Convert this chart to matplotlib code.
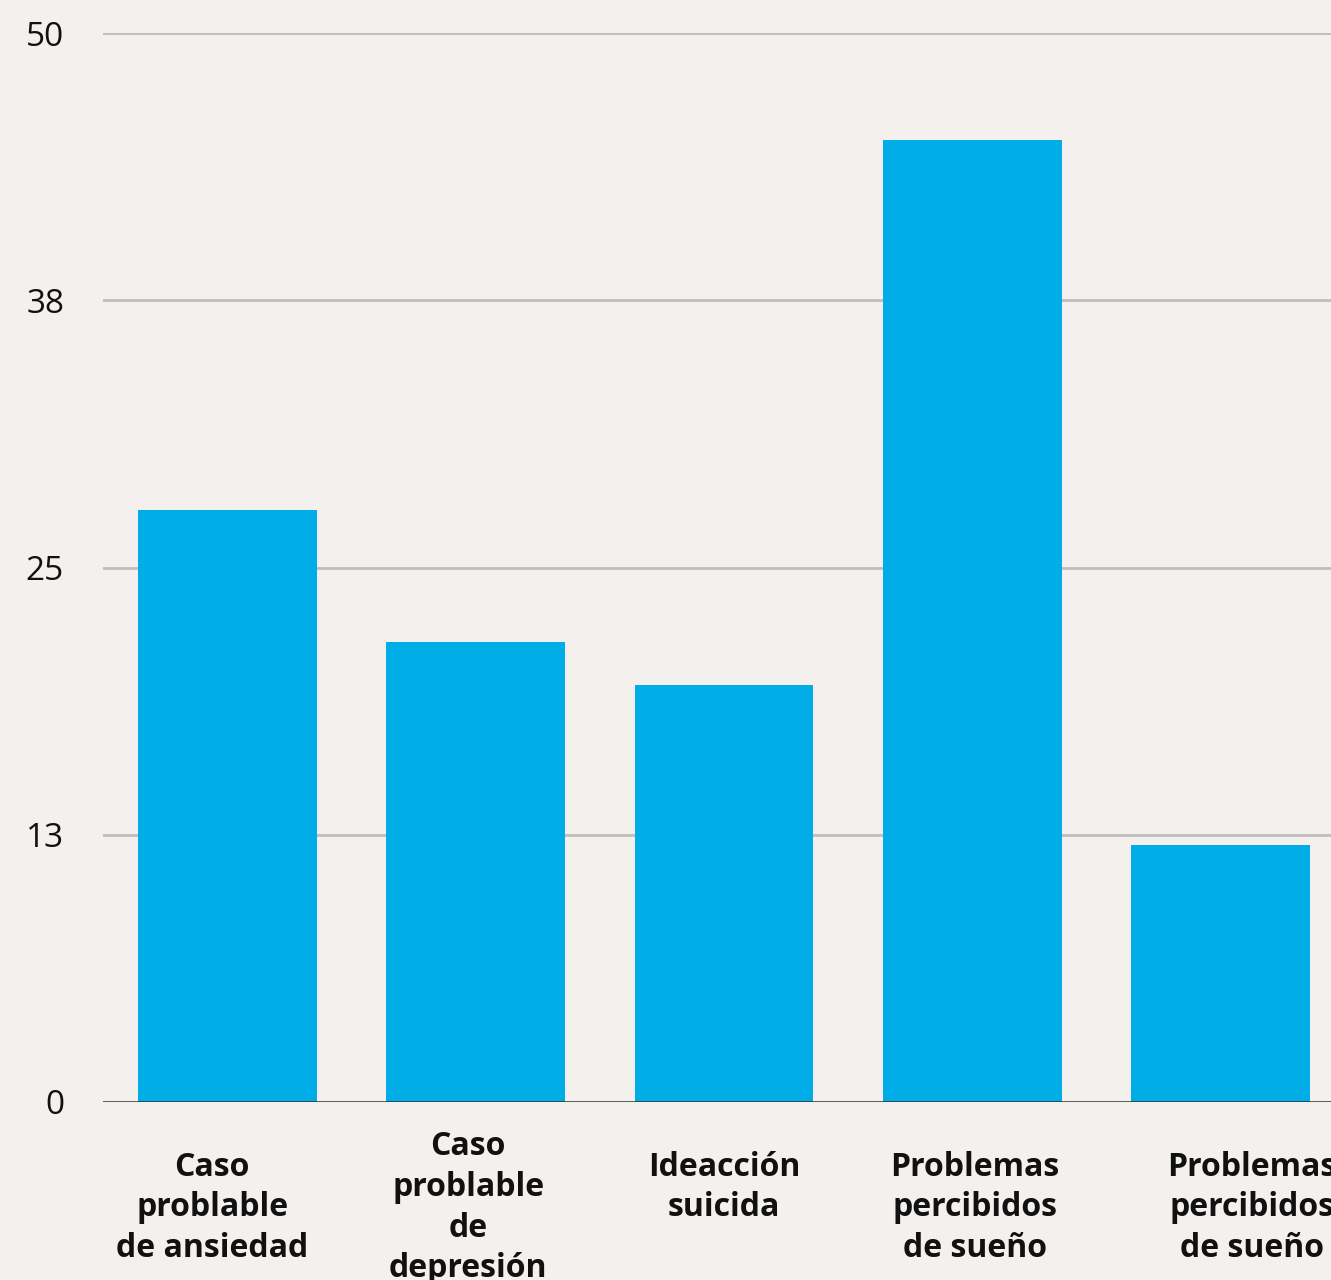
import matplotlib.pyplot as plt
from matplotlib.transforms import blended_transform_factory
import numpy as np

# data (percent)
categories = ["Caso\nproblable\nde ansiedad",
              "Caso\nproblable\nde\ndepresión",
              "Ideacción\nsuicida\n",
              "Problemas\npercibidos\nde sueño",
              "Problemas\npercibidos\nde sueño"]
values = [27.7, 21.5, 19.5, 45.0, 12.0]
ytick_vals = [0, 12.5, 25, 37.5, 50]
ytick_labels = ["0", "13", "25", "38", "50"]

# small nudges of the category labels, as seen in the picture
label_shift = [-0.06, -0.03, 0.0, 0.01, 0.125]

bg = "#f3f0ed"
bar_color = "#00ade6"

plt.rcParams['font.family'] = ['Open Sans', 'DejaVu Sans']

fig = plt.figure(figsize=(13.31, 12.80), dpi=100, facecolor=bg)
ax = fig.add_axes([103 / 1331, 178 / 1280, 1242 / 1331, 1069 / 1280])
ax.set_facecolor(bg)

x = np.arange(len(values))
ax.bar(x, values, width=0.72, color=bar_color, zorder=2)

ax.set_xlim(-0.5, len(values) - 0.5)
ax.set_ylim(0, 50)
ax.set_yticks(ytick_vals)
ax.set_yticklabels(ytick_labels, fontsize=24, color="#111111")
ax.tick_params(axis='y', length=0, pad=28)
ax.set_xticks([])

for v in ytick_vals[1:]:
    ax.axhline(v, color="#bebebe", linewidth=2.0, zorder=1)
ax.axhline(0, color="#333333", linewidth=1.1, zorder=3)

for s in ax.spines.values():
    s.set_visible(False)

# category labels under the bars
trans = blended_transform_factory(ax.transData, ax.transAxes)
for xi, lab, dx in zip(x, categories, label_shift):
    ax.text(xi + dx, -0.099, lab, transform=trans, ha='center', va='center',
            fontsize=23, fontweight='bold', color="#111111",
            linespacing=1.31, clip_on=False)

fig.savefig("out.png", dpi=100, facecolor=bg)
